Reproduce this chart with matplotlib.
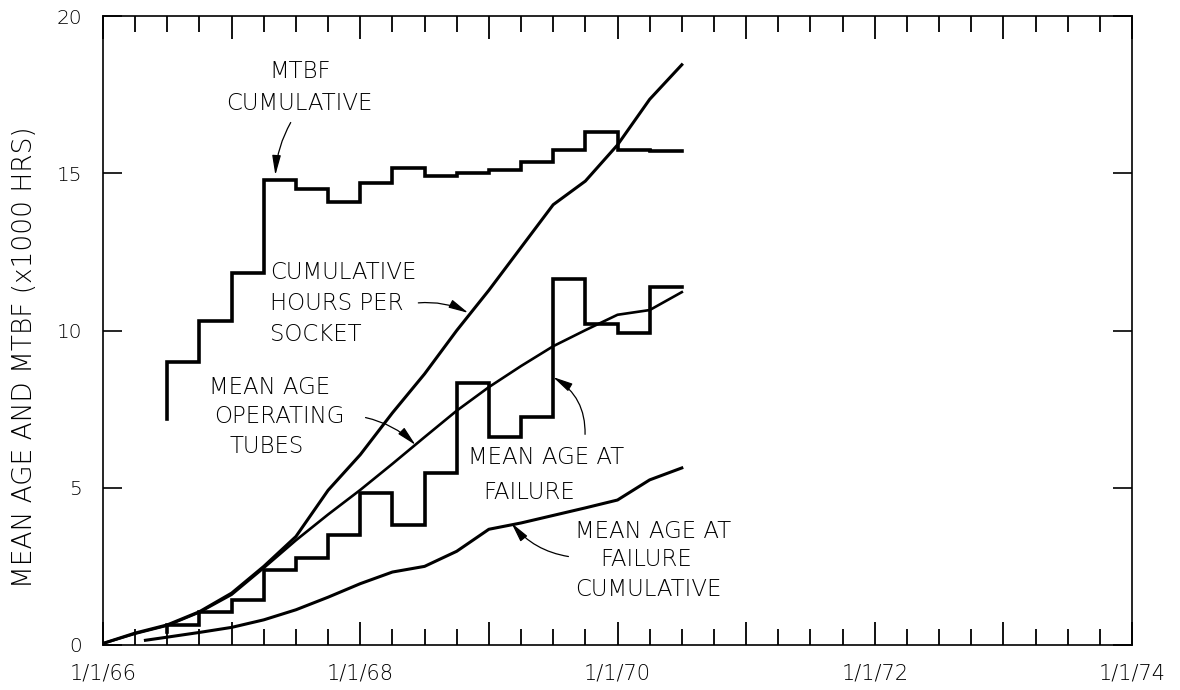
import matplotlib
matplotlib.use("Agg")
import matplotlib.pyplot as plt
from matplotlib.ticker import FixedLocator, FixedFormatter, MultipleLocator

# ---------------------------------------------------------------
# Data (time in decimal years, values in thousands of hours)
# ---------------------------------------------------------------
quarter_dates = [1966.00, 1966.25, 1966.50, 1966.75, 1967.00, 1967.25,
                 1967.50, 1967.75, 1968.00, 1968.25, 1968.50, 1968.75,
                 1969.00, 1969.25, 1969.50, 1969.75, 1970.00, 1970.25,
                 1970.50]

cum_hours_per_socket = [0.05, 0.38, 0.64, 1.06, 1.65, 2.50, 3.45, 4.92,
                        6.05, 7.38, 8.62, 10.00, 11.28, 12.64, 14.00,
                        14.75, 15.90, 17.35, 18.45]

mean_age_operating = [0.05, 0.36, 0.62, 1.04, 1.60, 2.45, 3.33, 4.15,
                      4.93, 5.76, 6.61, 7.45, 8.20, 8.87, 9.50, 10.01,
                      10.50, 10.65, 11.22]

cum_failure_dates = [1966.33, 1966.50, 1966.75, 1967.00, 1967.25, 1967.50,
                     1967.75, 1968.00, 1968.25, 1968.50, 1968.75, 1969.00,
                     1969.25, 1969.50, 1969.75, 1970.00, 1970.25, 1970.50]
mean_age_failure_cum = [0.15, 0.25, 0.40, 0.56, 0.80, 1.12, 1.52, 1.95,
                        2.32, 2.50, 2.98, 3.68, 3.88, 4.12, 4.36, 4.61,
                        5.25, 5.63]

# quarterly step series: first entry is the starting level,
# each following entry is the level for the quarter that begins there
step_dates = [1966.50, 1966.75, 1967.00, 1967.25, 1967.50, 1967.75,
              1968.00, 1968.25, 1968.50, 1968.75, 1969.00, 1969.25,
              1969.50, 1969.75, 1970.00, 1970.25, 1970.50]
mtbf_cumulative = [7.2, 9.0, 10.3, 11.83, 14.8, 14.5, 14.1, 14.7, 15.17,
                   14.9, 15.0, 15.1, 15.35, 15.75, 16.3, 15.75, 15.72]
mean_age_failure = [0.40, 0.63, 1.05, 1.43, 2.38, 2.78, 3.50, 4.83, 3.82,
                    5.47, 8.33, 6.60, 7.25, 11.64, 10.20, 9.92, 11.38]

year_ticks = [1966, 1967, 1968, 1969, 1970, 1971, 1972, 1973, 1974]
year_labels = ["1/1/66", "", "1/1/68", "", "1/1/70", "", "1/1/72", "", "1/1/74"]
y_ticks = [0, 5, 10, 15, 20]
y_labels = ["0", "5", "10", "15", "20"]

# ---------------------------------------------------------------
# Figure
# ---------------------------------------------------------------
plt.rcParams["font.family"] = ["DejaVu Sans"]
plt.rcParams["font.weight"] = "light"

fig = plt.figure(figsize=(11.8, 6.9), dpi=100)
ax = fig.add_axes([103 / 1180, 45 / 690, 1029 / 1180, 629 / 690])

ax.plot(quarter_dates, cum_hours_per_socket, color="black", lw=2.2,
        solid_joinstyle="round")
ax.plot(quarter_dates, mean_age_operating, color="black", lw=1.9,
        solid_joinstyle="round")
ax.plot(cum_failure_dates, mean_age_failure_cum, color="black", lw=2.2,
        solid_joinstyle="round")
ax.plot(step_dates, mtbf_cumulative, color="black", lw=2.6,
        drawstyle="steps-pre", solid_joinstyle="miter")
ax.plot(step_dates, mean_age_failure, color="black", lw=2.6,
        drawstyle="steps-pre", solid_joinstyle="miter")

ax.set_xlim(1966, 1974)
ax.set_ylim(0, 20)

ax.xaxis.set_major_locator(FixedLocator(year_ticks))
ax.xaxis.set_major_formatter(FixedFormatter(year_labels))
ax.xaxis.set_minor_locator(MultipleLocator(0.25))
ax.yaxis.set_major_locator(FixedLocator(y_ticks))
ax.yaxis.set_major_formatter(FixedFormatter(y_labels))

ax.tick_params(which="both", direction="in", top=True, right=True,
               color="black")
ax.tick_params(axis="x", which="major", length=16.5, width=1.3,
               labelsize=15, pad=13)
ax.tick_params(axis="x", which="minor", length=11.5, width=1.3)
ax.tick_params(axis="y", which="major", length=14, width=1.2,
               labelsize=14.5, pad=15)

for sp in ax.spines.values():
    sp.set_linewidth(1.2)

fig.text(25 / 1180, 1 - 357 / 690, "MEAN AGE AND MTBF (x1000 HRS)",
         rotation=90, ha="center", va="center", fontsize=19)

# ---------------------------------------------------------------
# Curve labels
# ---------------------------------------------------------------
TXT = dict(fontsize=16.5, color="black", va="center")
notes = [
    ("MTBF", 1967.53, 18.22, "center"),
    ("CUMULATIVE", 1967.53, 17.23, "center"),
    ("CUMULATIVE", 1967.298, 11.86, "left"),
    ("HOURS PER", 1967.298, 10.87, "left"),
    ("SOCKET", 1967.298, 9.86, "left"),
    ("MEAN AGE", 1967.298, 8.20, "center"),
    ("OPERATING", 1967.37, 7.28, "center"),
    ("TUBES", 1967.27, 6.30, "center"),
    ("MEAN AGE AT", 1968.838, 5.95, "left"),
    ("FAILURE", 1968.954, 4.86, "left"),
    ("MEAN AGE AT", 1969.67, 3.62, "left"),
    ("FAILURE", 1969.864, 2.73, "left"),
    ("CUMULATIVE", 1969.67, 1.75, "left"),
]
for s, x, y, ha in notes:
    ax.text(x, y, s, ha=ha, **TXT)

ARROW = "-|>,head_length=1.0,head_width=0.22"
pointers = [
    # (tip, tail, curvature)
    ((1967.34, 14.94), (1967.47, 16.69), 0.12),
    ((1968.84, 10.56), (1968.43, 10.87), -0.15),
    ((1968.43, 6.36), (1968.02, 7.25), -0.15),
    ((1969.499, 8.52), (1969.747, 6.61), 0.3),
    ((1969.175, 3.88), (1969.64, 2.80), -0.2),
]
for tip, tail, rad in pointers:
    ax.annotate("", xy=tip, xytext=tail,
                arrowprops=dict(arrowstyle=ARROW, color="black", lw=0.9,
                                mutation_scale=12, shrinkA=2, shrinkB=0,
                                connectionstyle=f"arc3,rad={rad}"))

fig.savefig("out.png", dpi=100, facecolor="white")
